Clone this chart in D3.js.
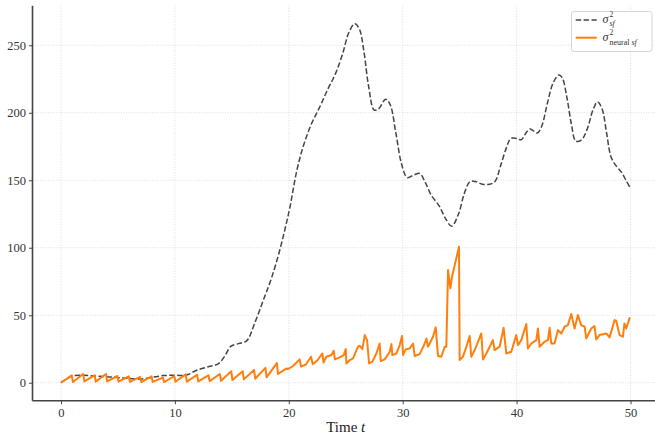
<!DOCTYPE html>
<html>
<head>
<meta charset="utf-8">
<script src="https://cdn.jsdelivr.net/npm/d3@7"></script>
<style>
  html, body { margin: 0; padding: 0; background: #fff; }
  svg { display: block; font-family: "Liberation Serif", "DejaVu Serif", serif; }
</style>
</head>
<body>
<svg id="chart" width="655" height="433"></svg>
<script>
// Reference variance σ²_sf (smooth, dashed)
const sfTime = [0, 0.5, 1, 2, 3, 4, 5, 6, 7, 8, 9, 10, 11, 12, 13, 13.8, 14.4, 14.9, 15.6, 16.3,
  17, 17.8, 18.5, 19.2, 19.7, 20.1, 20.7, 21.3, 22.0, 22.7, 23.4, 24.1, 24.7, 25.3, 25.8, 26.2,
  26.6, 27.0, 27.5, 27.9, 28.5, 28.9, 29.4, 29.9, 30.4, 31.0, 31.5, 32.0, 32.5, 33.2, 33.8,
  34.3, 34.9, 35.4, 35.9, 36.4, 37.0, 37.6, 38.1, 38.6, 39.1, 39.5, 40.0, 40.4, 40.9, 41.2,
  41.8, 42.2, 42.7, 43.2, 43.7, 44.0, 44.4, 44.8, 45.2, 45.7, 46.2, 46.7, 47.1, 47.5, 47.9,
  48.3, 48.8, 49.2, 49.6, 50];
const sfValue = [0, 3, 5, 5.5, 5, 4.5, 3.8, 3.2, 2.8, 4, 5.3, 5.5, 5.7, 9.5, 12, 14, 20, 27, 29, 31,
  44, 62, 78, 98, 115, 130, 157, 176, 192, 204, 217, 229, 243, 260, 266, 262,
  245, 220, 202, 203, 210, 206, 185, 162, 152, 154, 155, 148, 139, 131, 121,
  116, 125, 140, 149, 149, 147, 147, 149, 161, 174, 181, 181, 180, 186, 188,
  185, 190, 207, 222, 228, 226, 212, 192, 179, 180, 188, 202, 208, 203, 185,
  167, 160, 156, 150, 144];

// Neural estimate σ²_neural sf (sawtooth, solid)
const nTime = [0, 0.95, 1.05, 1.95, 2.05, 2.95, 3.05, 3.95, 4.05, 4.95, 5.05, 5.95, 6.05, 6.95,
  7.05, 7.95, 8.05, 8.95, 9.05, 9.95, 10.05, 10.95, 11.05, 11.95, 12.05, 12.95, 13.05, 13.95,
  14.05, 14.95, 15.05, 15.95, 16.05, 16.95, 17.05, 17.95, 18.05, 18.95, 19.05, 19.8, 19.9,
  20.2, 20.4, 20.95, 21.08, 21.5, 21.95, 22.1, 22.5, 22.95, 23.05, 23.3, 23.74, 23.95, 24.04,
  24.47, 24.83, 25.0, 25.06, 25.35, 25.64, 26.08, 26.23, 26.46, 26.67, 26.87, 27.05, 27.34,
  27.69, 27.98, 28.07, 28.42, 28.86, 29.01, 29.09, 29.45, 29.74, 29.94, 30.03, 30.26, 30.61,
  30.91, 31.05, 31.49, 31.93, 32.08, 32.22, 32.66, 32.9, 33.1, 33.39, 33.69, 33.83, 33.98,
  34.18, 34.33, 34.94, 35.0, 35.29, 35.59, 35.88, 36.02, 36.32, 36.9, 37.05, 37.34, 37.78,
  37.92, 38.07, 38.51, 38.86, 39.09, 39.53, 39.97, 40.12, 40.41, 40.85, 40.99, 41.29, 41.73,
  41.87, 42.02, 42.46, 42.75, 42.9, 43.04, 43.33, 43.63, 43.92, 44.21, 44.5, 44.8, 45.09,
  45.38, 45.67, 45.97, 46.11, 46.55, 46.84, 46.99, 47.28, 47.87, 48.16, 48.6, 48.74, 49.04,
  49.33, 49.47, 49.62, 49.94];
const nValue = [0, 5.5, 0.5, 6.5, 1, 5.5, 0.8, 6.5, 1, 5, 0.8, 4.8, 0.7, 4.3,
  0.5, 4.8, 0.6, 3.8, 0.5, 5, 0.7, 6.2, 0.8, 5.8, 1, 5.5, 1.2, 6.5,
  1.5, 8.5, 2, 8.5, 2.5, 9.5, 3, 11, 4, 14.5, 6.5, 10.6, 10,
  11.5, 12.6, 17.3, 11.9, 13.5, 19.3, 13.8, 16.5, 21.7, 15, 19.3, 20.5, 23.7, 17.3,
  18.8, 20.5, 24.9, 14.3, 16.8, 18, 26.7, 27.4, 24.9, 35.3, 31.6, 14.3, 15.6,
  21.7, 29.1, 16, 17.3, 23, 28.6, 20.5, 21.7, 27.9, 34.6, 20.5, 24.7, 25.4,
  29.1, 19.8, 21.2, 29.1, 32.8, 26.7, 34.1, 41, 19.8, 19.3, 26.7, 26.7, 83.5,
  69.9, 78.5, 100.7, 16.8, 19.3, 26.7, 34.6, 19.3, 24.2, 36.5, 17.3, 21.7, 29.1,
  31.6, 24.2, 26.7, 40.7, 21.7, 23, 35.3, 27.9, 31.6, 43.5, 25.4, 29.1, 31.6,
  40.2, 26.7, 30.4, 31.6, 40.7, 29.1, 29.1, 39, 36.5, 41.5, 42.7, 50.9, 40.2,
  50.1, 42.7, 41.5, 32.8, 40.2, 42, 32.1, 35.3, 36.5, 33.6, 46.4, 45.9, 35.3,
  34.1, 43.9, 40.2, 48.4];

const xTicks = [0, 10, 20, 30, 40, 50];
const yTicks = [0, 50, 100, 150, 200, 250];
const xLabel = "Time ";

const svg = d3.select("#chart");
const x = d3.scaleLinear().domain([-2.5, 52.5]).range([32.5, 659]);
const y = d3.scaleLinear().domain([-13.3, 279.3]).range([400.7, 5.7]);

const axisColor = "#444";

// grid
const grid = svg.append("g");
grid.selectAll("line.gx").data(xTicks).join("line")
  .attr("x1", d => x(d)).attr("x2", d => x(d))
  .attr("y1", y.range()[1]).attr("y2", y.range()[0])
  .attr("stroke", "#d6d6d6").attr("stroke-width", 0.8).attr("stroke-dasharray", "1,1.6");
grid.selectAll("line.gy").data(yTicks).join("line")
  .attr("y1", d => y(d)).attr("y2", d => y(d))
  .attr("x1", x.range()[0]).attr("x2", x.range()[1])
  .attr("stroke", "#d6d6d6").attr("stroke-width", 0.8).attr("stroke-dasharray", "1,1.6");

// axes
const yAxis = svg.append("g")
  .attr("transform", `translate(${x.range()[0]},0)`)
  .call(d3.axisLeft(y).tickValues(yTicks).tickSize(3.5).tickPadding(3).tickFormat(d3.format("d")));
const xAxis = svg.append("g")
  .attr("transform", `translate(0,${y.range()[0]})`)
  .call(d3.axisBottom(x).tickValues(xTicks).tickSize(3.5).tickPadding(4).tickFormat(d3.format("d")));
[xAxis, yAxis].forEach(g => {
  g.select(".domain").attr("stroke", axisColor).attr("stroke-width", 1.6);
  g.selectAll(".tick line").attr("stroke", axisColor).attr("stroke-width", 1);
  g.selectAll(".tick text").attr("fill", "#333").style("font-size", "12.5px")
    .style("font-family", "'Liberation Serif', serif");
});
// plain spines without end caps
yAxis.select(".domain").attr("d", `M0,${y.range()[0]}V${y.range()[1]}`);
xAxis.select(".domain").attr("d", `M${x.range()[0]},0H${x.range()[1]}`);

// x label
const xl = svg.append("text")
  .attr("x", (x.range()[0] + x.range()[1]) / 2).attr("y", 431.5)
  .attr("text-anchor", "middle").attr("fill", "#222").style("font-size", "15px");
xl.append("tspan").text(xLabel);
xl.append("tspan").attr("font-style", "italic").text("t");

// lines
const sfLine = d3.line().x(d => x(d[0])).y(d => y(d[1])).curve(d3.curveCatmullRom.alpha(0.5));
svg.append("path")
  .datum(d3.zip(sfTime, sfValue))
  .attr("d", sfLine)
  .attr("fill", "none").attr("stroke", "#444").attr("stroke-width", 1.5)
  .attr("stroke-dasharray", "5.5,2.4");

const nLine = d3.line().x(d => x(d[0])).y(d => y(d[1]));
svg.append("path")
  .datum(d3.zip(nTime, nValue))
  .attr("d", nLine)
  .attr("fill", "none").attr("stroke", "#ff7f0e").attr("stroke-width", 2)
  .attr("stroke-linejoin", "round");

// legend
const lg = svg.append("g");
lg.append("rect").attr("x", 571.5).attr("y", 11.5).attr("width", 80.5).attr("height", 40)
  .attr("rx", 2.5).attr("fill", "#fff").attr("fill-opacity", 0.85)
  .attr("stroke", "#d0d0d0").attr("stroke-width", 0.9);
lg.append("line").attr("x1", 575.7).attr("x2", 596.7).attr("y1", 20).attr("y2", 20)
  .attr("stroke", "#444").attr("stroke-width", 1.5).attr("stroke-dasharray", "5.5,2.4");
lg.append("line").attr("x1", 575.7).attr("x2", 596.7).attr("y1", 37.7).attr("y2", 37.7)
  .attr("stroke", "#ff7f0e").attr("stroke-width", 2);

// σ with stacked superscript 2 and subscript, as one text element
function legendLabel(yBase, subParts) {
  const t = lg.append("text").attr("x", 602.5).attr("y", yBase).attr("fill", "#333");
  t.append("tspan").style("font-size", "12px").attr("font-style", "italic").text("σ");
  t.append("tspan").attr("dx", 1).attr("dy", -6).style("font-size", "7.5px").text("2");
  subParts.forEach((p, i) => {
    const s = t.append("tspan").style("font-size", "8px")
      .attr("font-style", p.italic ? "italic" : "normal").text(p.t);
    if (i === 0) s.attr("dx", -3.75).attr("dy", 9.5);
  });
}
legendLabel(22.5, [{ t: "sf", italic: true }]);
legendLabel(41, [{ t: "neural ", italic: false }, { t: "sf", italic: true }]);
</script>
</body>
</html>
